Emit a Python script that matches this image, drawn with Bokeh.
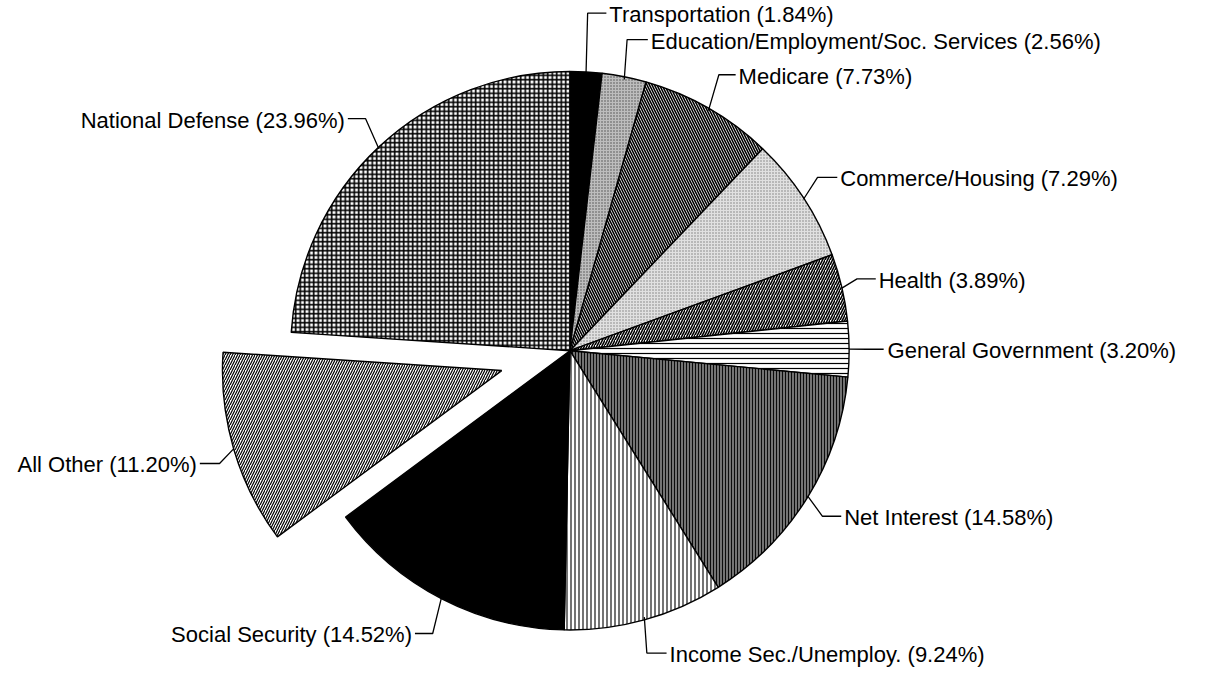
import math
from bokeh.plotting import figure
from bokeh.models import Range1d, ColumnDataSource
from bokeh.core.properties import value
from bokeh.embed import file_html
from bokeh.resources import INLINE

# ---------------- data ----------------
categories = [
    "Transportation",
    "Education/Employment/Soc. Services",
    "Medicare",
    "Commerce/Housing",
    "Health",
    "General Government",
    "Net Interest",
    "Income Sec./Unemploy.",
    "Social Security",
    "All Other",
    "National Defense",
]
shares = [1.84, 2.56, 7.73, 7.29, 3.89, 3.20, 14.58, 9.24, 14.52, 11.20, 23.96]

# ---------------- styles ----------------
fills = ["black", "#bdbdbd", "white", "#e0e0e0", "white", "white",
         "#737373", "white", "black", "white", "white"]
hatches = ["blank", "dot", "left_diagonal_line", "dot", "right_diagonal_line",
           "horizontal_line", "vertical_line", "vertical_line", "blank",
           "right_diagonal_line", "cross"]
hatch_scales = [4, 3, 5, 3, 5, 5, 3, 4, 4, 5, 4.5]
hatch_weights = [1, 1.0, 1.6, 0.8, 1.6, 1.2, 1.0, 1.1, 1, 1.2, 1.6]
hatch_alphas = [1, 0.6, 1, 0.45, 1, 1, 0.9, 1, 1, 1, 1]
explode = {"All Other": 72}

# ---------------- layout (reference pixel coordinates) ----------------
REF_W, REF_H = 1210, 691          # coordinate space of the layout below
FIG_W, FIG_H = 1194, 675          # fits the window with the 8px page margin
CX, CY = 577.0, 358.5
R = 283.0
FONT_PX = "22px"
# elbow point, end of horizontal segment, text anchor x, alignment
label_layout = [
    (595, 13, 614, 617, "left"),
    (635, 40, 656, 659, "left"),
    (728, 76, 745, 748, "left"),
    (828, 181, 848, 851, "left"),
    (868, 285, 887, 890, "left"),
    (878, 357, 895, 899, "left"),
    (833, 528, 852, 855, "left"),
    (655, 668, 675, 678, "left"),
    (438, 648, 420, 417, "right"),
    (222, 474, 202, 199, "right"),
    (370, 121, 352, 349, "right"),
]
TEXT_DY = 1.5


def fy(y_ref):
    return REF_H - y_ref


p = figure(width=FIG_W, height=FIG_H, output_backend="svg",
           toolbar_location=None, min_border=0,
           x_range=Range1d(0, REF_W), y_range=Range1d(0, REF_H))
p.axis.visible = False
p.grid.visible = False
p.outline_line_color = None
p.background_fill_color = "white"
p.border_fill_color = "white"

total = sum(shares)
xs, ys, starts, ends = [], [], [], []
edge_pts = []
cum = 0.0
for cat, s in zip(categories, shares):
    a0 = cum / total * 2 * math.pi
    a1 = (cum + s) / total * 2 * math.pi
    am = (a0 + a1) / 2
    cum += s
    d = explode.get(cat, 0)
    cx = CX + d * math.sin(am)
    cy = CY - d * math.cos(am)
    xs.append(cx)
    ys.append(fy(cy))
    starts.append(math.pi / 2 - a0)
    ends.append(math.pi / 2 - a1)
    edge_pts.append((cx + R * math.sin(am), cy - R * math.cos(am)))

src = ColumnDataSource(dict(
    x=xs, y=ys, start=starts, end=ends, fill=fills, hatch=hatches,
    hscale=hatch_scales, hweight=hatch_weights, halpha=hatch_alphas,
))
p.wedge(x="x", y="y", radius=R, start_angle="start", end_angle="end",
        direction="clock", source=src,
        fill_color="fill", hatch_pattern="hatch", hatch_scale="hscale",
        hatch_weight="hweight", hatch_alpha="halpha", hatch_color="black",
        line_color="black", line_width=1.4)

# leaders
lx, ly = [], []
for (ex, ey), (bx, by, hx, tx, al) in zip(edge_pts, label_layout):
    lx.append([ex, bx, hx])
    ly.append([fy(ey), fy(by), fy(by)])
p.multi_line(lx, ly, line_color="black", line_width=1.3)

labels = [f"{c} ({s:.2f}%)" for c, s in zip(categories, shares)]
for align in ("left", "right"):
    tx = [L[3] for L in label_layout if L[4] == align]
    ty = [fy(L[1] + TEXT_DY) for L in label_layout if L[4] == align]
    tt = [lab for lab, L in zip(labels, label_layout) if L[4] == align]
    p.text(x=tx, y=ty, text=tt, text_align=align, text_baseline="alphabetic",
           text_font=value("Liberation Sans"), text_font_size=FONT_PX,
           text_color="black")

open("out.html", "w").write(file_html(p, INLINE))
